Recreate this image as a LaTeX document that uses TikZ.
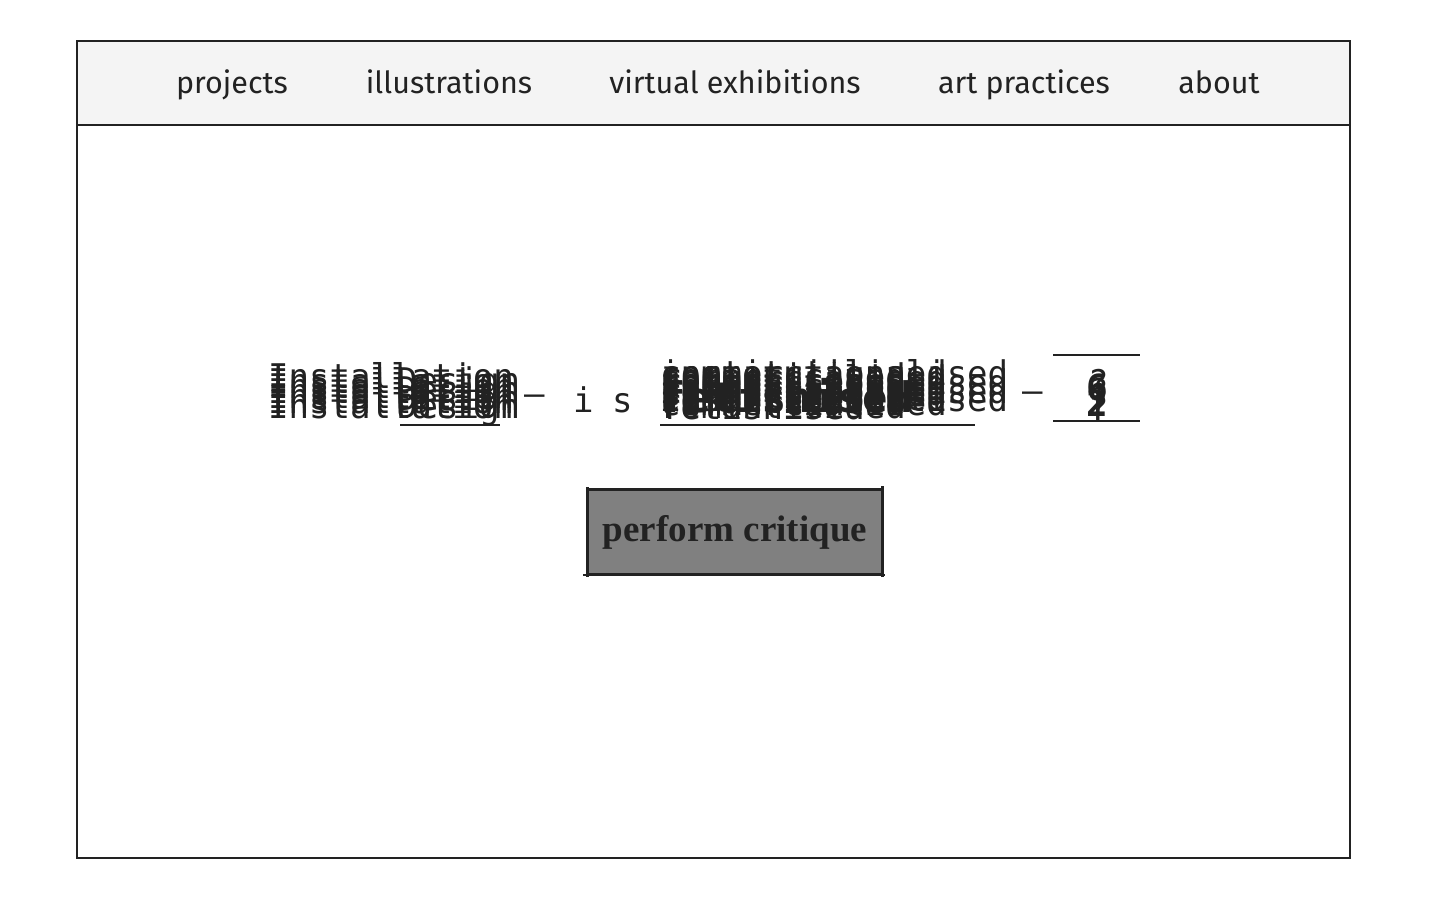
\documentclass[tikz,border=0pt]{standalone}
\usepackage{fontspec}
\setmainfont{Liberation Serif}
\newfontfamily\navfont{Fira Sans}
\newfontfamily\jumblefont{DejaVu Sans Mono}
\usepackage[rgb]{xcolor}
\usepackage{tikz}

\definecolor{navgray}{HTML}{F4F4F4}
\definecolor{buttongray}{HTML}{808080}
\definecolor{inkblack}{HTML}{222222}

\begin{document}
\begin{tikzpicture}[x=1pt, y=-1pt,
  navitem/.style={font=\navfont\fontsize{30.5}{30}\selectfont, text=inkblack, anchor=base, inner sep=0pt},
  jumble/.style={font=\jumblefont\fontsize{34}{34}\selectfont, text=inkblack, anchor=base west, inner sep=0pt},
  critbox/.style={draw=inkblack, line width=3pt, fill=buttongray, minimum width=295pt, minimum height=85pt,
    font=\bfseries\fontsize{37}{37}\selectfont, text=inkblack}]

\useasboundingbox (0,0) rectangle (1440,900);

% browser page with nav bar
\fill[navgray] (77,41) rectangle (1350,125);
\draw[inkblack, line width=2.4pt] (77,41) rectangle (1350,858);
\draw[inkblack, line width=2.4pt] (77,125) -- (1350,125);

\node[navitem] (projects) at (232,93) {projects};
\node[navitem] (illustrations) at (449,93) {illustrations};
\node[navitem] (exhibitions) at (735,93) {virtual exhibitions};
\node[navitem] (practices) at (1024,93) {art practices};
\node[navitem] (about) at (1219,93) {about};

% the shuffling sentence, every frame on top of each other
 \foreach \dy in {-16,-11,...,16}
  {
  \node[jumble] at (268,404+\dy) {Installation};
  \node[jumble] at (660,404+\dy) {romanticised};
  \node[jumble] at (660,401+\dy) {commercialised};
  }
 \foreach \dy in {-14,-5,4,12}
  {
  \node[jumble] at (397,406+\dy) {Design};
  \node[jumble] at (660,407+\dy) {fetishised};
  \node[jumble] at (660,399+\dy) {institutionalised};
  \node[jumble] at (1088,408+\dy) {?};
  }
\node[jumble, font=\jumblefont\bfseries\fontsize{42}{42}\selectfont] (word) at (660,412) {fetishised};
\node[jumble, font=\jumblefont\bfseries\fontsize{36}{36}\selectfont] (num6) at (1086,400) {6};
\node[jumble, font=\jumblefont\bfseries\fontsize{36}{36}\selectfont] (num2) at (1086,416) {2};

\node[jumble] (dashA) at (524,405) {–};
\node[jumble] (isI) at (573,412) {i};
\node[jumble] (isS) at (612,412) {s};
\node[jumble] (dashB) at (1022,402) {–};

\draw[inkblack, line width=2.5pt] (400,425) -- (500,425);
\draw[inkblack, line width=2.5pt] (660,425) -- (975,425);
\draw[inkblack, line width=2.5pt] (1053,355) -- (1140,355);
\draw[inkblack, line width=2.5pt] (1053,421) -- (1140,421);

% button
\node[critbox] (critique) at (735,532) {perform critique};
\draw[inkblack, line width=3pt] (587,487) -- (587,577);
\draw[inkblack, line width=3pt] (882,486) -- (882,577);
\draw[inkblack, line width=2pt] (583,575) -- (885,575);

\end{tikzpicture}
\end{document}
